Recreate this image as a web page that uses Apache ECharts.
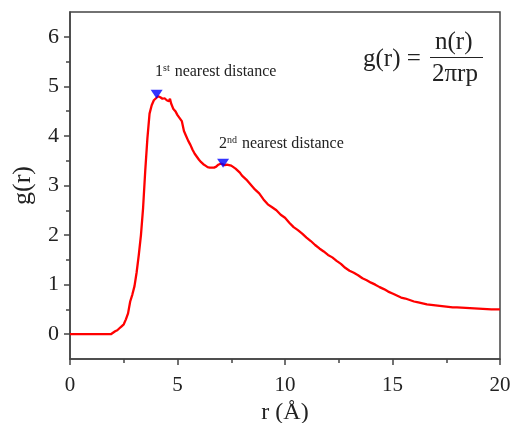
<!DOCTYPE html>
<html>
<head>
<meta charset="utf-8">
<script src="https://cdn.jsdelivr.net/npm/echarts@6/dist/echarts.min.js"></script>
<style>
  html, body { margin: 0; padding: 0; background: #fff; }
  #chart { width: 515px; height: 423px; }
</style>
</head>
<body>
<div id="chart"></div>
<script>
// r (Å) and g(r)
var rValues = [0, 0.5, 1.0, 1.5, 1.9, 2.0, 2.1, 2.2, 2.3, 2.4, 2.5, 2.6, 2.7, 2.8, 2.9,
  3.0, 3.1, 3.2, 3.3, 3.4, 3.5, 3.6, 3.7, 3.8, 3.9, 4.0, 4.1, 4.2, 4.3, 4.4, 4.5,
  4.6, 4.65, 4.7, 4.8, 4.9, 5.0, 5.1, 5.2, 5.3, 5.4, 5.5, 5.6, 5.7, 5.8, 5.9, 6.0,
  6.1, 6.2, 6.3, 6.4, 6.5, 6.6, 6.7, 6.8, 6.9, 7.0, 7.1, 7.2, 7.3, 7.4, 7.5, 7.6,
  7.7, 7.8, 7.9, 8.0, 8.2, 8.4, 8.6, 8.8, 9.0, 9.2, 9.4, 9.6, 9.8, 10.0, 10.2, 10.4,
  10.6, 10.8, 11.0, 11.2, 11.4, 11.6, 11.8, 12.0, 12.2, 12.4, 12.6, 12.8, 13.0,
  13.2, 13.4, 13.6, 13.8, 14.0, 14.2, 14.4, 14.6, 14.8, 15.0, 15.2, 15.4, 15.6,
  15.8, 16.0, 16.2, 16.4, 16.6, 16.8, 17.0, 17.2, 17.4, 17.6, 17.8, 18.0, 18.4,
  18.8, 19.2, 19.6, 20.0];
var gValues = [0, 0, 0, 0, 0, 0.03, 0.06, 0.08, 0.12, 0.16, 0.2, 0.3, 0.42, 0.66, 0.8,
  0.97, 1.25, 1.6, 2.0, 2.55, 3.3, 3.95, 4.45, 4.62, 4.72, 4.76, 4.8, 4.78, 4.75, 4.76, 4.72,
  4.7, 4.75, 4.66, 4.55, 4.5, 4.42, 4.36, 4.3, 4.1, 4.0, 3.9, 3.82, 3.72, 3.64, 3.58, 3.52,
  3.47, 3.43, 3.4, 3.37, 3.36, 3.36, 3.36, 3.38, 3.42, 3.44, 3.43, 3.41, 3.42, 3.41, 3.4, 3.37,
  3.34, 3.3, 3.26, 3.2, 3.12, 3.02, 2.92, 2.84, 2.72, 2.62, 2.56, 2.5, 2.41, 2.35, 2.25, 2.16,
  2.1, 2.03, 1.95, 1.88, 1.8, 1.73, 1.67, 1.6, 1.55, 1.48, 1.42, 1.34, 1.28,
  1.24, 1.19, 1.13, 1.09, 1.04, 1.0, 0.95, 0.91, 0.86, 0.82, 0.78, 0.74, 0.72,
  0.69, 0.66, 0.64, 0.62, 0.6, 0.59, 0.58, 0.57, 0.56, 0.55, 0.54, 0.54, 0.53,
  0.52, 0.51, 0.5, 0.5];
// nearest distance markers
var peakR = [4.03, 7.12];
var peakG = [4.84, 3.45];
var yTickLabels = [0, 1, 2, 3, 4, 5, 6];
var yMinorTicks = [0.5, 1.5, 2.5, 3.5, 4.5, 5.5];

var serif = "Liberation Serif";
var axisColor = "#444";
var textColor = "#222";

var chart = echarts.init(document.getElementById("chart"));

var lineData = rValues.map(function (r, i) { return [r, gValues[i]]; });
var peakData = peakR.map(function (r, i) { return [r, peakG[i]]; });

// superscript label style
var noteRich = {
  n: { fontFamily: serif, fontSize: 16, fill: textColor },
  s: { fontFamily: serif, fontSize: 10, fill: textColor, verticalAlign: "top", padding: [0, 1, 7, 0] }
};

chart.setOption({
  animation: false,
  backgroundColor: "#fff",
  grid: {
    left: 70, right: 15, top: 12, bottom: 64,
    outerBoundsMode: "none",
    show: true, borderColor: axisColor, borderWidth: 1.5, backgroundColor: "transparent"
  },
  xAxis: {
    type: "value",
    min: 0, max: 20, interval: 5,
    name: "r (Å)",
    nameLocation: "middle",
    nameGap: 39,
    nameTextStyle: { fontFamily: serif, fontSize: 24, color: textColor },
    axisLine: { show: true, onZero: false, lineStyle: { color: axisColor, width: 1.5 } },
    axisTick: { show: true, inside: false, length: 6, lineStyle: { color: axisColor, width: 1.5 } },
    minorTick: { show: true, splitNumber: 2, length: 4, lineStyle: { color: axisColor, width: 1.5 } },
    axisLabel: { fontFamily: serif, fontSize: 21, color: textColor, margin: 16 },
    splitLine: { show: false }
  },
  yAxis: [{
    type: "value",
    min: -0.5, max: 6.5,
    name: "g(r)",
    nameLocation: "middle",
    nameGap: 34,
    nameTextStyle: { fontFamily: serif, fontSize: 26, color: textColor },
    axisLine: { show: true, onZero: false, lineStyle: { color: axisColor, width: 1.5 } },
    axisTick: { show: true, inside: false, length: 6, customValues: yTickLabels,
      lineStyle: { color: axisColor, width: 1.5 } },
    axisLabel: { fontFamily: serif, fontSize: 22, color: textColor, margin: 11,
      customValues: yTickLabels },
    splitLine: { show: false }
  }, {
    type: "value",
    position: "left",
    min: -0.5, max: 6.5,
    axisLine: { show: false },
    axisTick: { show: true, inside: false, length: 4, customValues: yMinorTicks,
      lineStyle: { color: axisColor, width: 1.5 } },
    axisLabel: { show: false },
    splitLine: { show: false }
  }],
  series: [{
    type: "line",
    data: lineData,
    showSymbol: false,
    lineStyle: { color: "#ff0000", width: 2.3 },
    z: 2
  }, {
    type: "scatter",
    data: peakData,
    symbol: "triangle",
    symbolRotate: 180,
    symbolSize: [12, 9],
    itemStyle: { color: "#0000ff" },
    z: 3
  }],
  graphic: [
    {
      type: "text", left: 155, top: 63,
      style: { text: "{n|1}{s|st}{n| nearest distance}", rich: noteRich }
    },
    {
      type: "text", left: 219, top: 135,
      style: { text: "{n|2}{s|nd}{n| nearest distance}", rich: noteRich }
    },
    {
      type: "text", left: 363, top: 47,
      style: { text: "g(r) =", fontFamily: serif, fontSize: 25, fill: textColor }
    },
    {
      type: "text", left: 435, top: 30,
      style: { text: "n(r)", fontFamily: serif, fontSize: 25, fill: textColor }
    },
    {
      type: "line",
      shape: { x1: 430, y1: 57.5, x2: 483, y2: 57.5 },
      style: { stroke: textColor, lineWidth: 1.2 }
    },
    {
      type: "text", left: 432, top: 62,
      style: { text: "2πrp", fontFamily: serif, fontSize: 25, fill: textColor }
    }
  ]
});
</script>
</body>
</html>
